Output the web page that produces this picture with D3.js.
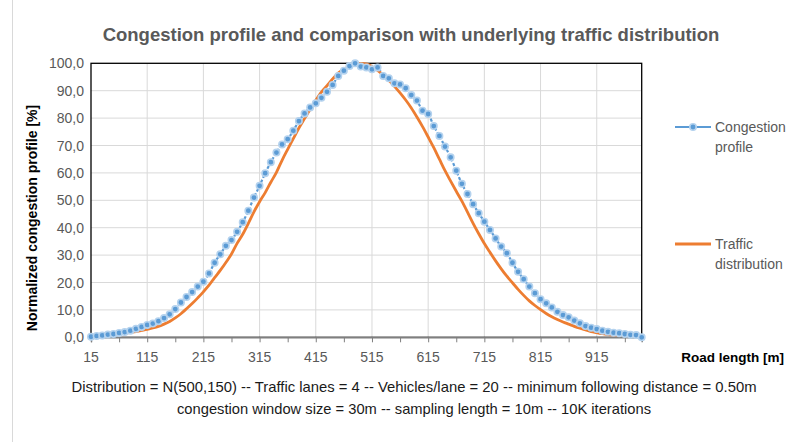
<!DOCTYPE html>
<html lang="en">
<head>
    <meta charset="UTF-8">
    <title>Congestion profile</title>
    <script src="https://cdn.jsdelivr.net/npm/d3@7/dist/d3.min.js"></script>
    <style>
        body { margin: 0; background: #fff; }
        svg text { font-family: "Liberation Sans", Arial, sans-serif; }
        .tick-label { font-size: 14px; fill: #595959; }
        .foot { font-family: "Liberation Sans Narrow", "Arial Narrow", "Liberation Sans", sans-serif !important; font-size: 15px; fill: #1a1a1a; }
    </style>
</head>
<body>
<div id="chart"></div>
<script>
// road position of each sample [m]
var roadLength = [15, 25, 35, 45, 55, 65, 75, 85, 95, 105,
    115, 125, 135, 145, 155, 165, 175, 185, 195, 205,
    215, 225, 235, 245, 255, 265, 275, 285, 295, 305,
    315, 325, 335, 345, 355, 365, 375, 385, 395, 405,
    415, 425, 435, 445, 455, 465, 475, 485, 495, 505,
    515, 525, 535, 545, 555, 565, 575, 585, 595, 605,
    615, 625, 635, 645, 655, 665, 675, 685, 695, 705,
    715, 725, 735, 745, 755, 765, 775, 785, 795, 805,
    815, 825, 835, 845, 855, 865, 875, 885, 895, 905,
    915, 925, 935, 945, 955, 965, 975, 985, 995];

// Congestion profile [%]
var congestion = [0.2, 0.5, 0.7, 1.0, 1.2, 1.6, 1.9, 2.4, 3.1, 3.8,
    4.5, 5.0, 5.9, 7.0, 8.4, 10.3, 12.7, 14.7, 16.5, 18.5,
    20.3, 23.3, 27.2, 30.3, 33.4, 35.5, 38.5, 42.0, 46.2, 51.0,
    55.3, 59.9, 63.9, 67.4, 70.4, 72.3, 75.4, 78.9, 81.7, 83.9,
    85.4, 87.4, 89.6, 92.1, 95.4, 97.3, 99.0, 100.0, 98.8, 98.5,
    97.8, 98.5, 95.4, 94.5, 92.7, 92.3, 90.9, 88.4, 86.4, 82.7,
    81.5, 77.1, 73.5, 69.6, 65.7, 60.8, 56.0, 52.3, 48.6, 45.3,
    42.2, 39.2, 36.1, 33.1, 30.7, 27.2, 23.9, 21.2, 18.5, 16.1,
    13.9, 12.4, 10.9, 9.3, 8.1, 7.3, 6.1, 5.1, 4.1, 3.5,
    3.0, 2.4, 2.0, 1.7, 1.5, 1.2, 0.9, 0.8, 0.0];

// Traffic distribution [%]
var traffic = [0.5, 0.6, 0.7, 0.9, 1.0, 1.2, 1.5, 1.8, 2.1, 2.5,
    2.9, 3.4, 4.0, 4.8, 5.8, 7.1, 8.6, 10.4, 12.3, 14.4,
    16.6, 19.0, 21.8, 24.4, 27.3, 30.4, 34.3, 37.6, 41.6, 45.8,
    49.5, 52.8, 56.6, 60.2, 64.6, 68.6, 72.5, 76.4, 79.8, 83.2,
    86.5, 89.5, 91.8, 94.3, 96.4, 97.9, 98.8, 99.6, 100.0, 99.8,
    98.8, 97.4, 95.7, 93.8, 91.6, 89.2, 86.6, 83.7, 80.4, 76.9,
    73.1, 69.2, 65.0, 60.8, 57.0, 53.3, 49.7, 45.7, 41.6, 37.8,
    34.2, 31.0, 27.9, 25.0, 22.3, 19.9, 17.5, 15.3, 13.3, 11.6,
    10.1, 8.7, 7.5, 6.5, 5.6, 4.8, 4.0, 3.3, 2.7, 2.1,
    1.7, 1.3, 1.0, 0.8, 0.7, 0.6, 0.5, 0.4, 0.3];

var xTickLabels = [15, 115, 215, 315, 415, 515, 615, 715, 815, 915];
var yTicks = [0, 10, 20, 30, 40, 50, 60, 70, 80, 90, 100];

var W = 799, H = 442;
var plotLeft = 91, plotRight = 641.7, plotTop = 63.3, plotBottom = 337.3;

var svg = d3.select("#chart").append("svg")
    .attr("width", W).attr("height", H);

// chart area border
svg.append("rect")
    .attr("x", 12.5).attr("y", -2).attr("width", 900).attr("height", 500)
    .attr("fill", "none").attr("stroke", "#d9d9d9");

var x = d3.scalePoint().domain(roadLength).range([plotLeft, plotRight]);
var y = d3.scaleLinear().domain([0, 100]).range([plotBottom, plotTop]);

// grid lines
svg.append("g").selectAll("line")
    .data(yTicks.slice(1, -1)).enter().append("line")
    .attr("x1", plotLeft).attr("x2", plotRight)
    .attr("y1", function(d) { return y(d); })
    .attr("y2", function(d) { return y(d); })
    .attr("stroke", "#d9d9d9");

svg.append("g").selectAll("line")
    .data(xTickLabels.slice(1)).enter().append("line")
    .attr("x1", function(d) { return x(d); })
    .attr("x2", function(d) { return x(d); })
    .attr("y1", plotTop).attr("y2", plotBottom)
    .attr("stroke", "#d9d9d9");

// plot border
svg.append("rect")
    .attr("x", plotLeft).attr("y", plotTop)
    .attr("width", plotRight - plotLeft).attr("height", plotBottom - plotTop)
    .attr("fill", "none").attr("stroke", "#000").attr("stroke-width", 1.3);

// x axis line with minor ticks every 5 samples
var tickCats = roadLength.filter(function(d, i) { return i % 5 === 0; });
var xAxis = d3.axisBottom(x).tickValues(tickCats).tickSize(5).tickFormat("");
var gx = svg.append("g").attr("transform", "translate(0," + plotBottom + ")").call(xAxis);
gx.select(".domain").attr("stroke", "#7f7f7f").attr("stroke-width", 1.5);
gx.selectAll(".tick line").attr("stroke", "#7f7f7f");

svg.append("g").selectAll("text")
    .data(xTickLabels).enter().append("text")
    .attr("class", "tick-label")
    .attr("x", function(d) { return x(d); })
    .attr("y", plotBottom + 25)
    .attr("text-anchor", "middle")
    .text(function(d) { return d; });

svg.append("g").selectAll("text")
    .data(yTicks).enter().append("text")
    .attr("class", "tick-label")
    .attr("x", plotLeft - 7)
    .attr("y", function(d) { return y(d) + 5; })
    .attr("text-anchor", "end")
    .text(function(d) { return d.toFixed(1).replace(".", ","); });

// traffic distribution line
var line = d3.line()
    .x(function(d, i) { return x(roadLength[i]); })
    .y(function(d) { return y(d); })
    .curve(d3.curveMonotoneX);

svg.append("path").datum(traffic)
    .attr("d", line)
    .attr("fill", "none").attr("stroke", "#ed7d31").attr("stroke-width", 2.8);

// congestion profile line + markers
svg.append("path").datum(congestion)
    .attr("d", line)
    .attr("fill", "none").attr("stroke", "#5b9bd5").attr("stroke-width", 2.2)
    .attr("stroke-dasharray", "3,2");

svg.append("g").selectAll("circle")
    .data(congestion).enter().append("circle")
    .attr("cx", function(d, i) { return x(roadLength[i]); })
    .attr("cy", function(d) { return y(d); })
    .attr("r", 3.2)
    .attr("fill", "#5b9bd5")
    .attr("stroke", "#b4d2ee").attr("stroke-width", 1.6);

// titles
svg.append("text")
    .attr("x", 411).attr("y", 41)
    .attr("text-anchor", "middle")
    .style("font-size", "18.5px").style("font-weight", "bold").attr("fill", "#595959")
    .text("Congestion profile and comparison with underlying traffic distribution");

svg.append("text")
    .attr("transform", "translate(37,218) rotate(-90)")
    .attr("text-anchor", "middle")
    .style("font-size", "14px").style("font-weight", "bold").attr("fill", "#000")
    .text("Normalized congestion profile [%]");

svg.append("text")
    .attr("x", 784).attr("y", 362)
    .attr("text-anchor", "end")
    .style("font-size", "13.5px").style("font-weight", "bold").attr("fill", "#000")
    .text("Road length [m]");

// legend
var lg = svg.append("g");
lg.append("line").attr("x1", 675).attr("x2", 711).attr("y1", 127).attr("y2", 127)
    .attr("stroke", "#5b9bd5").attr("stroke-width", 2.2);
lg.append("circle").attr("cx", 693).attr("cy", 127).attr("r", 3.2)
    .attr("fill", "#5b9bd5").attr("stroke", "#b4d2ee").attr("stroke-width", 1.6);
lg.append("text").attr("class", "tick-label").attr("x", 715).attr("y", 132).text("Congestion");
lg.append("text").attr("class", "tick-label").attr("x", 715).attr("y", 152).text("profile");

lg.append("line").attr("x1", 675).attr("x2", 711).attr("y1", 244).attr("y2", 244)
    .attr("stroke", "#ed7d31").attr("stroke-width", 2.8);
lg.append("text").attr("class", "tick-label").attr("x", 715).attr("y", 249).text("Traffic");
lg.append("text").attr("class", "tick-label").attr("x", 715).attr("y", 269).text("distribution");

// footnote
svg.append("text").attr("class", "foot")
    .attr("x", 414).attr("y", 392).attr("text-anchor", "middle")
    .attr("textLength", 685).attr("lengthAdjust", "spacingAndGlyphs")
    .text("Distribution = N(500,150) -- Traffic lanes = 4 -- Vehicles/lane = 20 -- minimum following distance = 0.50m");
svg.append("text").attr("class", "foot")
    .attr("x", 414).attr("y", 414).attr("text-anchor", "middle")
    .attr("textLength", 474).attr("lengthAdjust", "spacingAndGlyphs")
    .text("congestion window size = 30m -- sampling length = 10m -- 10K iterations");
</script>
</body>
</html>
